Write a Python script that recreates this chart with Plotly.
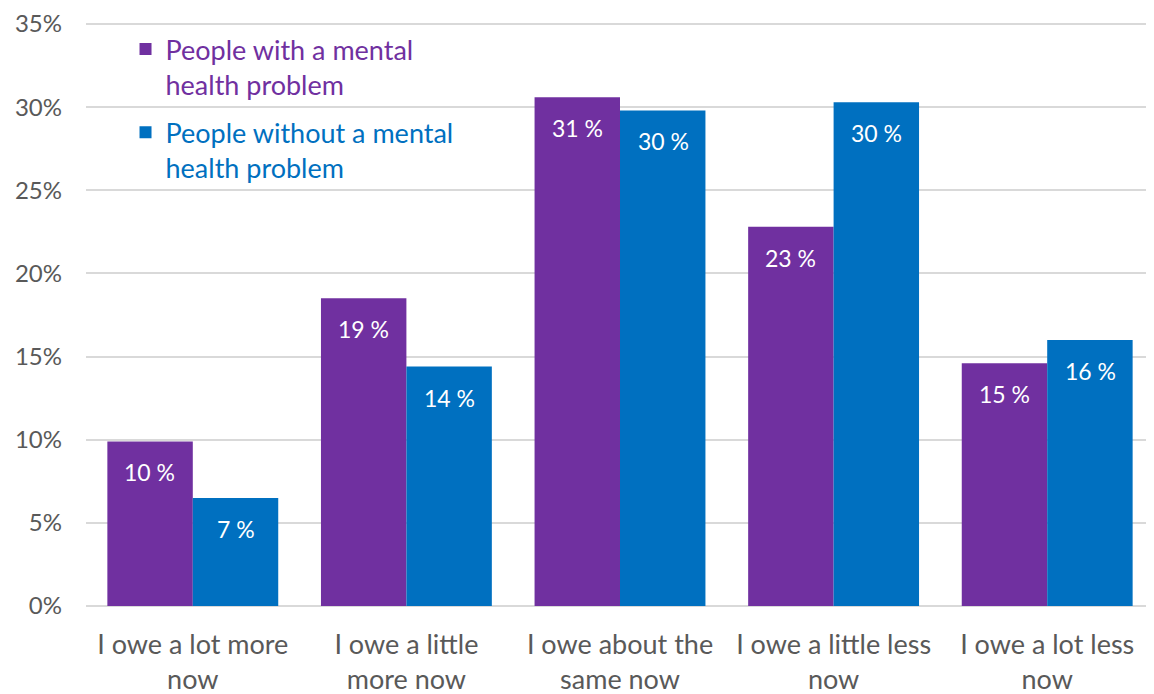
import plotly.graph_objects as go

categories = ["I owe a lot more<br>now", "I owe a little<br>more now", "I owe about the<br>same now",
              "I owe a little less<br>now", "I owe a lot less<br>now"]
series_names = ["People with a mental<br>health problem", "People without a mental<br>health problem"]
with_problem = [9.9, 18.5, 30.6, 22.8, 14.6]
without_problem = [6.5, 14.4, 29.8, 30.3, 16.0]
with_labels = ["10 %", "19 %", "31 %", "23 %", "15 %"]
without_labels = ["7 %", "14 %", "30 %", "30 %", "16 %"]
y_ticks = [0, 5, 10, 15, 20, 25, 30, 35]

PURPLE = "#7030A0"
BLUE = "#0070C0"
GREY = "#595959"
FONT = "Lato, 'Open Sans', sans-serif"

fig = go.Figure()
for i, (name, vals, color) in enumerate([(series_names[0], with_problem, PURPLE),
                                         (series_names[1], without_problem, BLUE)]):
    fig.add_trace(go.Bar(
        x=categories, y=vals,
        name=f"<span style='color:{color}'>{name}</span>",
        legendgroup=f"g{i}",
        marker=dict(color=color, line=dict(width=0)),
        hoverinfo="skip",
    ))

annotations = []
for vals, labels, shift in [(with_problem, with_labels, -43), (without_problem, without_labels, 43)]:
    for c, v, t in zip(categories, vals, labels):
        annotations.append(dict(
            x=c, y=v, xref="x", yref="y", text=t, showarrow=False,
            xshift=shift, yshift=-31, yanchor="middle", xanchor="center",
            font=dict(family=FONT, size=23, color="white"),
        ))

# the page body adds an 8px offset; the figure is sized to fit the window
fig.update_layout(
    width=1146, height=686,
    margin=dict(l=78, r=0, t=14, b=88),
    paper_bgcolor="white", plot_bgcolor="white",
    barmode="group", bargap=0.2, bargroupgap=0,
    font=dict(family=FONT, color=GREY),
    annotations=annotations,
    showlegend=True,
    legend=dict(
        x=0.037, y=0.995, xanchor="left", yanchor="top",
        bgcolor="rgba(0,0,0,0)",
        font=dict(family=FONT, size=27),
        tracegroupgap=10,
        valign="top",
        itemwidth=30,
    ),
    xaxis=dict(
        tickfont=dict(family=FONT, size=27, color=GREY),
        showgrid=False, showline=False, ticks="",
        automargin=False, ticklabelstandoff=20, ticklabeloverflow="allow",
    ),
    yaxis=dict(
        range=[0, 35.12], tickvals=y_ticks, ticktext=[f"{v}%" for v in y_ticks],
        tickfont=dict(family=FONT, size=24, color=GREY),
        showgrid=True, gridcolor="#D9D9D9", gridwidth=1.5,
        zeroline=True, zerolinecolor="#D9D9D9", zerolinewidth=1.5,
        showline=False, ticks="", ticklabelstandoff=23, automargin=False,
        ticklabeloverflow="allow",
    ),
)

fig.write_html("out.html")
